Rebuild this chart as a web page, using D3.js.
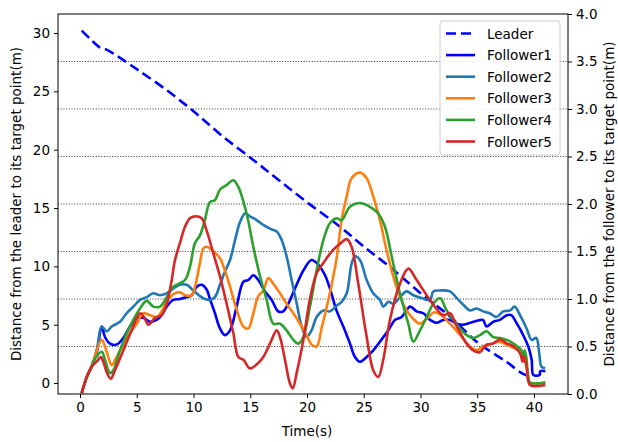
<!DOCTYPE html>
<html>
<head>
<meta charset="utf-8">
<script src="https://cdn.jsdelivr.net/npm/d3@7"></script>
<style>
  body { margin: 0; background: #fff; }
  svg { font-family: "DejaVu Sans", sans-serif; }
</style>
</head>
<body>
<div id="chart"></div>
<script>
// time(s), distance -- leader on left axis, followers on right axis
const leader = [[0.15,30.2],[1,29.4],[1.7,28.8],[2.3,28.6],[3,28.2],[5,26.9],[7.5,25.2],[10,23.3],[12.5,21.2],[15.3,19.1],[17.5,17.4],[20,15.5],[22.9,13.4],[25,11.7],[27.5,9.8],[30,7.7],[32.6,5.7],[35,3.5],[37.6,1.8],[39,0.8],[39.8,0.5]];

const follower1 = [[0.15,0.01],[0.6,0.18],[1.03,0.29],[1.5,0.45],[1.91,0.71],[2.2,0.6],[2.64,0.53],[3.23,0.52],[3.82,0.59],[4.4,0.71],[5.0,0.8],[5.6,0.8],[6.17,0.76],[6.75,0.78],[7.2,0.83],[7.64,0.92],[8.22,0.99],[8.81,1.0],[9.4,1.02],[9.84,1.04],[10.28,1.13],[10.72,1.15],[11.16,1.1],[11.45,1.0],[11.89,0.85],[12.33,0.69],[12.77,0.62],[13.22,0.67],[13.8,0.92],[14.39,1.18],[14.83,1.2],[15.27,1.25],[15.71,1.2],[16.3,1.08],[16.89,0.99],[17.47,0.87],[17.9,0.87],[18.35,0.95],[18.94,1.11],[19.68,1.3],[20.4,1.41],[21.0,1.36],[21.59,1.25],[22.1,1.08],[22.6,0.88],[23.2,0.71],[23.79,0.53],[24.23,0.39],[24.67,0.34],[25.26,0.39],[25.84,0.46],[26.43,0.55],[27.17,0.67],[27.75,0.78],[28.34,0.81],[29.08,0.92],[29.66,0.87],[30.25,0.85],[30.84,0.78],[31.43,0.75],[32.0,0.78],[32.6,0.78],[33.2,0.74],[33.8,0.73],[34.4,0.75],[35.0,0.77],[35.5,0.78],[35.83,0.71],[36.4,0.76],[37.0,0.78],[37.6,0.83],[38.0,0.83],[38.5,0.74],[39.05,0.62],[39.5,0.5],[39.8,0.36],[39.95,0.2],[40.5,0.2],[40.55,0.24],[41.0,0.24]];

const follower2 = [[0.15,0.01],[0.6,0.18],[1.03,0.29],[1.5,0.48],[1.91,0.71],[2.35,0.66],[2.79,0.71],[3.52,0.76],[4.11,0.85],[4.7,0.92],[5.29,0.99],[5.87,1.02],[6.46,1.06],[7.05,1.04],[7.64,1.06],[8.22,1.11],[8.81,1.15],[9.4,1.15],[9.98,1.09],[10.57,1.03],[11.0,1.0],[11.45,0.99],[11.89,1.02],[12.33,1.15],[12.77,1.29],[13.22,1.41],[13.66,1.62],[14.1,1.81],[14.54,1.9],[14.98,1.87],[15.56,1.83],[16.15,1.78],[16.74,1.74],[17.33,1.71],[17.77,1.62],[18.2,1.45],[18.65,1.2],[19.1,0.95],[19.53,0.71],[19.97,0.6],[20.4,0.67],[20.85,0.81],[21.44,0.88],[22.03,0.87],[22.61,0.93],[23.05,0.97],[23.5,1.06],[23.93,1.37],[24.23,1.45],[24.67,1.41],[25.26,1.2],[25.84,1.06],[26.43,0.99],[26.72,0.92],[27.17,0.97],[27.6,0.95],[28.2,1.02],[28.78,1.08],[29.37,1.04],[30.1,1.01],[30.84,0.99],[31.13,1.08],[31.72,1.09],[32.6,1.08],[33.2,1.01],[33.77,0.94],[34.36,0.88],[34.95,0.9],[35.53,0.87],[36.1,0.85],[36.7,0.81],[37.3,0.87],[37.9,0.88],[38.3,0.92],[38.77,0.83],[39.35,0.69],[39.8,0.57],[40.2,0.59],[40.5,0.39],[40.65,0.29],[41.0,0.27]];

const follower3 = [[0.15,0.01],[0.6,0.18],[1.03,0.29],[1.17,0.34],[1.91,0.57],[2.35,0.445],[2.79,0.305],[3.23,0.39],[4.11,0.59],[5.0,0.74],[5.58,0.85],[6.17,0.83],[6.75,0.81],[7.2,0.87],[7.64,0.97],[8.22,1.05],[8.81,1.07],[9.25,1.04],[9.84,1.04],[10.13,1.13],[10.57,1.38],[10.86,1.53],[11.2,1.55],[11.75,1.5],[12.33,1.43],[12.77,1.3],[13.22,1.13],[13.8,0.89],[14.39,0.71],[14.83,0.69],[15.27,0.85],[15.71,1.03],[16.15,1.09],[16.6,1.22],[17.03,1.16],[17.62,1.06],[18.2,0.95],[18.8,0.85],[19.38,0.74],[19.97,0.62],[20.4,0.52],[20.85,0.5],[21.3,0.7],[21.9,1.0],[22.6,1.42],[23.05,1.83],[23.5,2.08],[23.93,2.27],[24.67,2.33],[25.26,2.27],[25.84,2.08],[26.43,1.83],[27.0,1.52],[27.6,1.24],[28.2,1.02],[28.78,0.88],[29.37,0.79],[29.96,0.74],[30.6,0.8],[31.2,0.86],[31.72,0.84],[32.6,0.74],[33.5,0.62],[34.36,0.5],[34.95,0.46],[35.5,0.5],[36.1,0.52],[36.85,0.55],[37.6,0.52],[38.3,0.48],[38.9,0.45],[39.3,0.4],[39.6,0.12],[41.0,0.12]];

const follower4 = [[0.15,0.01],[0.6,0.18],[1.03,0.29],[1.17,0.34],[1.91,0.445],[2.2,0.36],[2.64,0.22],[2.94,0.25],[3.52,0.46],[4.4,0.71],[5.29,0.9],[5.87,0.98],[6.46,0.92],[7.05,0.92],[7.64,1.02],[8.22,1.13],[9.25,1.2],[9.69,1.34],[10.13,1.59],[10.57,1.67],[11.0,1.83],[11.45,2.02],[11.89,2.04],[12.33,2.15],[12.92,2.2],[13.51,2.25],[13.95,2.18],[14.68,1.9],[15.27,1.55],[15.86,1.24],[16.45,0.99],[17.03,0.74],[17.62,0.74],[18.2,0.67],[18.8,0.57],[19.24,0.53],[19.68,0.6],[20.26,0.92],[20.85,1.3],[21.44,1.62],[22.03,1.8],[22.61,1.85],[23.05,1.83],[23.79,1.97],[24.67,2.01],[25.55,1.97],[26.28,1.9],[26.87,1.76],[27.46,1.45],[28.19,1.06],[28.93,0.74],[29.37,0.55],[29.96,0.67],[30.55,0.81],[31.13,0.95],[31.72,1.01],[32.3,0.88],[32.89,0.78],[33.48,0.69],[34.07,0.62],[34.65,0.59],[35.24,0.62],[35.83,0.66],[36.4,0.6],[37.0,0.59],[37.6,0.57],[38.2,0.53],[38.9,0.46],[39.05,0.4],[39.2,0.46],[39.5,0.18],[39.65,0.12],[41.0,0.12]];

const follower5 = [[0.15,0.01],[0.6,0.18],[1.03,0.29],[1.47,0.34],[1.82,0.39],[2.05,0.34],[2.35,0.23],[2.7,0.16],[3.08,0.25],[3.82,0.46],[4.55,0.67],[5.29,0.85],[5.64,0.81],[6.02,0.73],[6.6,0.8],[7.18,0.83],[7.64,0.95],[8.08,1.2],[8.37,1.41],[8.81,1.59],[9.25,1.76],[9.69,1.85],[10.1,1.87],[10.72,1.85],[11.16,1.72],[11.75,1.48],[12.33,1.24],[12.92,0.95],[13.51,0.64],[13.95,0.39],[14.4,0.36],[14.98,0.27],[15.56,0.31],[16.15,0.39],[16.74,0.53],[17.33,0.67],[17.62,0.6],[18.06,0.36],[18.5,0.11],[18.74,0.06],[19.09,0.22],[19.68,0.57],[20.26,1.0],[20.85,1.27],[21.44,1.38],[22.32,1.52],[22.9,1.58],[23.5,1.63],[23.93,1.55],[24.52,1.16],[25.26,0.6],[25.84,0.25],[26.28,0.18],[26.72,0.36],[27.31,0.78],[28.19,1.16],[28.93,1.32],[29.66,1.2],[30.84,0.99],[32.0,0.83],[32.6,0.85],[33.2,0.71],[34.07,0.53],[34.65,0.46],[35.24,0.44],[35.83,0.52],[36.4,0.53],[37.0,0.575],[37.6,0.533],[38.2,0.5],[38.77,0.43],[39.0,0.34],[39.1,0.4],[39.4,0.25],[39.65,0.095],[41.0,0.095]];

const seriesNames = ["Leader", "Follower1", "Follower2", "Follower3", "Follower4", "Follower5"];
const seriesColors = ["#0000ff", "#0000ff", "#1f77b4", "#ff7f0e", "#2ca02c", "#d62728"];
const xTicks = [0, 5, 10, 15, 20, 25, 30, 35, 40];
const leftTicks = [0, 5, 10, 15, 20, 25, 30];
const rightTicks = [0, 0.5, 1.0, 1.5, 2.0, 2.5, 3.0, 3.5, 4.0];

const width = 618, height = 442;
const margin = { top: 14, right: 50, bottom: 48, left: 58 };
const plotW = width - margin.left - margin.right;
const plotH = height - margin.top - margin.bottom;

const x = d3.scaleLinear().domain([-1.94, 43.0]).range([0, plotW]);
const yL = d3.scaleLinear().domain([-0.94, 31.63]).range([plotH, 0]);
const yR = d3.scaleLinear().domain([0, 4]).range([plotH, 0]);

const svg = d3.select("#chart").append("svg")
  .attr("width", width)
  .attr("height", height);

const g = svg.append("g").attr("transform", `translate(${margin.left},${margin.top})`);

g.append("clipPath").attr("id", "clip")
  .append("rect").attr("width", plotW).attr("height", plotH);

// dotted grid from the right axis
g.append("g")
  .selectAll("line")
  .data(rightTicks.filter(d => d > 0 && d < 4))
  .enter().append("line")
  .attr("x1", 0).attr("x2", plotW)
  .attr("y1", d => yR(d)).attr("y2", d => yR(d))
  .attr("stroke", "#333")
  .attr("stroke-width", 1)
  .attr("stroke-dasharray", "1,1.7");

const lineL = d3.line().x(d => x(d[0])).y(d => yL(d[1])).curve(d3.curveCatmullRom.alpha(0.5));
const lineR = d3.line().x(d => x(d[0])).y(d => yR(d[1])).curve(d3.curveCatmullRom.alpha(0.5));

const lines = g.append("g").attr("clip-path", "url(#clip)");

lines.append("path")
  .datum(leader)
  .attr("d", lineL)
  .attr("fill", "none")
  .attr("stroke", seriesColors[0])
  .attr("stroke-width", 2.6)
  .attr("stroke-dasharray", "10,5");

[follower1, follower2, follower3, follower4, follower5].forEach((s, i) => {
  lines.append("path")
    .datum(s)
    .attr("d", lineR)
    .attr("fill", "none")
    .attr("stroke", seriesColors[i + 1])
    .attr("stroke-width", 2.6)
    .attr("stroke-linejoin", "round");
});

// axes
const xAxis = g.append("g")
  .attr("transform", `translate(0,${plotH})`)
  .call(d3.axisBottom(x).tickValues(xTicks).tickSize(4).tickPadding(4).tickFormat(d3.format("d")));

const leftAxis = g.append("g")
  .call(d3.axisLeft(yL).tickValues(leftTicks).tickSize(4).tickPadding(4).tickFormat(d3.format("d")));

const rightAxis = g.append("g")
  .attr("transform", `translate(${plotW},0)`)
  .call(d3.axisRight(yR).tickValues(rightTicks).tickSize(4).tickPadding(4).tickFormat(d3.format(".1f")));

[xAxis, leftAxis, rightAxis].forEach(a => {
  a.select(".domain").remove();
  a.selectAll("text").attr("font-size", 13.5).attr("fill", "#000").attr("font-family", "DejaVu Sans");
  a.selectAll("line").attr("stroke", "#000");
});

g.append("rect")
  .attr("width", plotW).attr("height", plotH)
  .attr("fill", "none").attr("stroke", "#000").attr("stroke-width", 1);

// axis labels
svg.append("text")
  .attr("x", margin.left + x(20)).attr("y", 436)
  .attr("text-anchor", "middle")
  .attr("font-size", 13.5)
  .text("Time(s)");

svg.append("text")
  .attr("transform", `translate(21,${margin.top + plotH / 2}) rotate(-90)`)
  .attr("text-anchor", "middle")
  .attr("font-size", 13.5)
  .text("Distance from the leader to its target point(m)");

svg.append("text")
  .attr("transform", `translate(614,${margin.top + plotH / 2}) rotate(-90)`)
  .attr("text-anchor", "middle")
  .attr("font-size", 13.5)
  .text("Distance from the follower to its target point(m)");

// legend
const legend = svg.append("g").attr("transform", "translate(440,21)");
legend.append("rect")
  .attr("width", 120).attr("height", 134)
  .attr("rx", 3)
  .attr("fill", "#fff").attr("fill-opacity", 0.85)
  .attr("stroke", "#ccc");

seriesNames.forEach((name, i) => {
  const row = legend.append("g").attr("transform", `translate(0,${12.5 + i * 21.6})`);
  row.append("line")
    .attr("x1", 6).attr("x2", 35)
    .attr("stroke", seriesColors[i])
    .attr("stroke-width", 2.6)
    .attr("stroke-dasharray", i === 0 ? "10,5" : null);
  row.append("text")
    .attr("x", 47).attr("y", 5)
    .attr("font-size", 13.5)
    .text(name);
});
</script>
</body>
</html>
